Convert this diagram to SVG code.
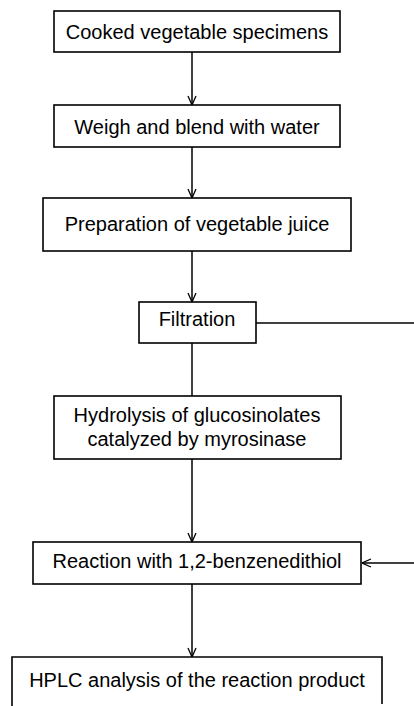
<svg xmlns="http://www.w3.org/2000/svg" width="414" height="706" viewBox="0 0 414 706">
<style>
.box{fill:#fff;stroke:#000;stroke-width:1.6}
.t{font-family:"Liberation Sans",Arial,sans-serif;font-size:20px;fill:#000;text-anchor:middle}
.c{fill:none;stroke:#000;stroke-width:1.5}
</style>
<defs>
<marker id="ah" viewBox="0 0 10 10" refX="10" refY="5" markerWidth="10" markerHeight="10" markerUnits="userSpaceOnUse" orient="auto">
<path d="M1,1 L10,5 L1,9" fill="none" stroke="#000" stroke-width="1.3"/>
</marker>
</defs>
<rect width="414" height="706" fill="#fff"/>
<g id="connectors">
<line class="c" x1="192" y1="52" x2="192" y2="105" marker-end="url(#ah)"/>
<line class="c" x1="192" y1="147" x2="192" y2="198" marker-end="url(#ah)"/>
<line class="c" x1="192" y1="251" x2="192" y2="302" marker-end="url(#ah)"/>
<line class="c" x1="256" y1="323" x2="414" y2="323"/>
<line class="c" x1="192" y1="343" x2="192" y2="396"/>
<line class="c" x1="192" y1="459" x2="192" y2="542" marker-end="url(#ah)"/>
<line class="c" x1="414" y1="563" x2="362" y2="563" marker-end="url(#ah)"/>
<line class="c" x1="192" y1="584" x2="192" y2="657" marker-end="url(#ah)"/>
</g>
<g id="n1">
<rect class="box" x="54" y="11" width="286" height="41"/>
<text class="t" x="197" y="39">Cooked vegetable specimens</text>
</g>
<g id="n2">
<rect class="box" x="54" y="105" width="286" height="42"/>
<text class="t" x="197" y="134">Weigh and blend with water</text>
</g>
<g id="n3">
<rect class="box" x="43" y="198" width="308" height="53"/>
<text class="t" x="197" y="231">Preparation of vegetable juice</text>
</g>
<g id="n4">
<rect class="box" x="139" y="302" width="117" height="41"/>
<text class="t" x="197" y="326">Filtration</text>
</g>
<g id="n5">
<rect class="box" x="54" y="396" width="287" height="63"/>
<text class="t" x="197" y="422">Hydrolysis of glucosinolates</text>
<text class="t" x="197" y="446">catalyzed by myrosinase</text>
</g>
<g id="n6">
<rect class="box" x="33" y="542" width="328" height="42"/>
<text class="t" x="197" y="568">Reaction with 1,2-benzenedithiol</text>
</g>
<g id="n7">
<path class="box" d="M12,706 V657 H382 V704"/>
<text class="t" x="197" y="687">HPLC analysis of the reaction product</text>
</g>
</svg>
